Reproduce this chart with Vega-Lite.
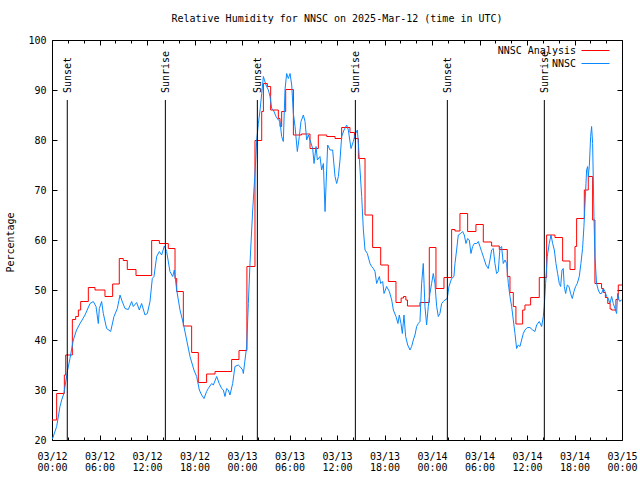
{
  "$schema": "https://vega.github.io/schema/vega-lite/v6.json",
  "width": 570,
  "height": 400,
  "autosize": "none",
  "padding": {"left": 52, "top": 40, "right": 18, "bottom": 40},
  "background": "white",
  "config": {
    "view": {"stroke": "black", "strokeWidth": 1},
    "font": "DejaVu Sans Mono",
    "axis": {"labelFont": "DejaVu Sans Mono", "labelFontSize": 10, "labelColor": "black", "tickColor": "black", "titleFont": "DejaVu Sans Mono", "titleFontSize": 10, "titleFontWeight": "normal", "titleColor": "black", "grid": false, "domain": false, "tickWidth": 1}
  },
  "title": {"text": "Relative Humidity for NNSC on 2025-Mar-12 (time in UTC)", "font": "DejaVu Sans Mono", "fontSize": 10, "fontWeight": "normal", "anchor": "middle", "offset": 11, "color": "black"},
  "datasets": {
    "ev": [
      {"h": 1.93, "e": "Sunset"}, {"h": 14.32, "e": "Sunrise"}, {"h": 25.94, "e": "Sunset"},
      {"h": 38.32, "e": "Sunrise"}, {"h": 49.94, "e": "Sunset"}, {"h": 62.19, "e": "Sunrise"}
    ],
    "rh": [
      {"s": "NNSC Analysis", "h": 0, "v": 24},
      {"s": "NNSC Analysis", "h": 0.59, "v": 29.3},
      {"s": "NNSC Analysis", "h": 1.56, "v": 33},
      {"s": "NNSC Analysis", "h": 1.73, "v": 37},
      {"s": "NNSC Analysis", "h": 2.57, "v": 44.1},
      {"s": "NNSC Analysis", "h": 2.99, "v": 44.7},
      {"s": "NNSC Analysis", "h": 3.33, "v": 46},
      {"s": "NNSC Analysis", "h": 3.62, "v": 47.7},
      {"s": "NNSC Analysis", "h": 4.59, "v": 50.5},
      {"s": "NNSC Analysis", "h": 5.43, "v": 50.0},
      {"s": "NNSC Analysis", "h": 6.69, "v": 48.7},
      {"s": "NNSC Analysis", "h": 7.66, "v": 51.2},
      {"s": "NNSC Analysis", "h": 8.5, "v": 56.3},
      {"s": "NNSC Analysis", "h": 9.0, "v": 55.9},
      {"s": "NNSC Analysis", "h": 9.51, "v": 54.1},
      {"s": "NNSC Analysis", "h": 10.61, "v": 52.9},
      {"s": "NNSC Analysis", "h": 12.59, "v": 59.9},
      {"s": "NNSC Analysis", "h": 13.56, "v": 59.3},
      {"s": "NNSC Analysis", "h": 14.69, "v": 58.3},
      {"s": "NNSC Analysis", "h": 15.54, "v": 52.3},
      {"s": "NNSC Analysis", "h": 15.75, "v": 49.7},
      {"s": "NNSC Analysis", "h": 16.59, "v": 42.8},
      {"s": "NNSC Analysis", "h": 17.64, "v": 37.5},
      {"s": "NNSC Analysis", "h": 18.48, "v": 31.5},
      {"s": "NNSC Analysis", "h": 19.53, "v": 33.2},
      {"s": "NNSC Analysis", "h": 20.59, "v": 33.7},
      {"s": "NNSC Analysis", "h": 22.69, "v": 36.1},
      {"s": "NNSC Analysis", "h": 23.62, "v": 37.9},
      {"s": "NNSC Analysis", "h": 24.62, "v": 54.7},
      {"s": "NNSC Analysis", "h": 25.64, "v": 79.9},
      {"s": "NNSC Analysis", "h": 26.49, "v": 85.7},
      {"s": "NNSC Analysis", "h": 26.7, "v": 91.3},
      {"s": "NNSC Analysis", "h": 27.2, "v": 90.7},
      {"s": "NNSC Analysis", "h": 27.62, "v": 86},
      {"s": "NNSC Analysis", "h": 28.59, "v": 84.3},
      {"s": "NNSC Analysis", "h": 28.8, "v": 82.7},
      {"s": "NNSC Analysis", "h": 29.01, "v": 85.7},
      {"s": "NNSC Analysis", "h": 29.52, "v": 90.1},
      {"s": "NNSC Analysis", "h": 30.49, "v": 81},
      {"s": "NNSC Analysis", "h": 31.5, "v": 81.2},
      {"s": "NNSC Analysis", "h": 32.59, "v": 78.3},
      {"s": "NNSC Analysis", "h": 33.64, "v": 81},
      {"s": "NNSC Analysis", "h": 34.7, "v": 80.7},
      {"s": "NNSC Analysis", "h": 35.75, "v": 80.3},
      {"s": "NNSC Analysis", "h": 36.59, "v": 82.5},
      {"s": "NNSC Analysis", "h": 37.64, "v": 81.5},
      {"s": "NNSC Analysis", "h": 38.2, "v": 80.3},
      {"s": "NNSC Analysis", "h": 38.7, "v": 76.3},
      {"s": "NNSC Analysis", "h": 39.54, "v": 65},
      {"s": "NNSC Analysis", "h": 40.5, "v": 58.5},
      {"s": "NNSC Analysis", "h": 41.52, "v": 55},
      {"s": "NNSC Analysis", "h": 42.48, "v": 51.7},
      {"s": "NNSC Analysis", "h": 43.45, "v": 47.5},
      {"s": "NNSC Analysis", "h": 44.1, "v": 48.4},
      {"s": "NNSC Analysis", "h": 44.4, "v": 48.7},
      {"s": "NNSC Analysis", "h": 44.7, "v": 48.0},
      {"s": "NNSC Analysis", "h": 44.9, "v": 46.8},
      {"s": "NNSC Analysis", "h": 46.48, "v": 47.5},
      {"s": "NNSC Analysis", "h": 47.66, "v": 58.5},
      {"s": "NNSC Analysis", "h": 48.5, "v": 50.3},
      {"s": "NNSC Analysis", "h": 49.51, "v": 52.5},
      {"s": "NNSC Analysis", "h": 50.48, "v": 62.1},
      {"s": "NNSC Analysis", "h": 50.9, "v": 61.8},
      {"s": "NNSC Analysis", "h": 51.53, "v": 65.3},
      {"s": "NNSC Analysis", "h": 52.5, "v": 61.7},
      {"s": "NNSC Analysis", "h": 53.55, "v": 63.1},
      {"s": "NNSC Analysis", "h": 54.48, "v": 59.6},
      {"s": "NNSC Analysis", "h": 55.53, "v": 58.8},
      {"s": "NNSC Analysis", "h": 56.5, "v": 58.1},
      {"s": "NNSC Analysis", "h": 57.51, "v": 52.7},
      {"s": "NNSC Analysis", "h": 57.85, "v": 49.5},
      {"s": "NNSC Analysis", "h": 58.27, "v": 46.7},
      {"s": "NNSC Analysis", "h": 58.6, "v": 43.2},
      {"s": "NNSC Analysis", "h": 59.45, "v": 46},
      {"s": "NNSC Analysis", "h": 59.74, "v": 47},
      {"s": "NNSC Analysis", "h": 60.46, "v": 48.5},
      {"s": "NNSC Analysis", "h": 61.55, "v": 52.5},
      {"s": "NNSC Analysis", "h": 62.48, "v": 61},
      {"s": "NNSC Analysis", "h": 63.53, "v": 60.5},
      {"s": "NNSC Analysis", "h": 64.5, "v": 55.8},
      {"s": "NNSC Analysis", "h": 65.43, "v": 54.1},
      {"s": "NNSC Analysis", "h": 66.06, "v": 58.7},
      {"s": "NNSC Analysis", "h": 66.27, "v": 64.3},
      {"s": "NNSC Analysis", "h": 67.24, "v": 70},
      {"s": "NNSC Analysis", "h": 67.74, "v": 72.7},
      {"s": "NNSC Analysis", "h": 68.29, "v": 64},
      {"s": "NNSC Analysis", "h": 68.58, "v": 51.3},
      {"s": "NNSC Analysis", "h": 69.42, "v": 50.3},
      {"s": "NNSC Analysis", "h": 69.64, "v": 49.5},
      {"s": "NNSC Analysis", "h": 69.9, "v": 48.5},
      {"s": "NNSC Analysis", "h": 70.2, "v": 47.3},
      {"s": "NNSC Analysis", "h": 70.5, "v": 46.2},
      {"s": "NNSC Analysis", "h": 70.69, "v": 46},
      {"s": "NNSC Analysis", "h": 71.23, "v": 48.1},
      {"s": "NNSC Analysis", "h": 71.53, "v": 51},
      {"s": "NNSC Analysis", "h": 72, "v": 51},
      {"s": "NNSC", "h": 0.05, "v": 20.2},
      {"s": "NNSC", "h": 0.59, "v": 22.7},
      {"s": "NNSC", "h": 1.01, "v": 26.7},
      {"s": "NNSC", "h": 1.22, "v": 28},
      {"s": "NNSC", "h": 1.5, "v": 29.3},
      {"s": "NNSC", "h": 1.77, "v": 32},
      {"s": "NNSC", "h": 1.98, "v": 34},
      {"s": "NNSC", "h": 2.27, "v": 36.3},
      {"s": "NNSC", "h": 2.69, "v": 40},
      {"s": "NNSC", "h": 3.1, "v": 42},
      {"s": "NNSC", "h": 3.54, "v": 43.3},
      {"s": "NNSC", "h": 4.17, "v": 45},
      {"s": "NNSC", "h": 4.8, "v": 47.3},
      {"s": "NNSC", "h": 5.22, "v": 47.7},
      {"s": "NNSC", "h": 5.56, "v": 46.7},
      {"s": "NNSC", "h": 5.85, "v": 43.3},
      {"s": "NNSC", "h": 5.98, "v": 46.3},
      {"s": "NNSC", "h": 6.27, "v": 47.7},
      {"s": "NNSC", "h": 6.48, "v": 45.3},
      {"s": "NNSC", "h": 6.9, "v": 42.3},
      {"s": "NNSC", "h": 7.41, "v": 41.7},
      {"s": "NNSC", "h": 7.83, "v": 44.7},
      {"s": "NNSC", "h": 8.25, "v": 46.3},
      {"s": "NNSC", "h": 8.59, "v": 49},
      {"s": "NNSC", "h": 8.8, "v": 48},
      {"s": "NNSC", "h": 9.22, "v": 46.3},
      {"s": "NNSC", "h": 9.64, "v": 46.1},
      {"s": "NNSC", "h": 10.06, "v": 47.7},
      {"s": "NNSC", "h": 10.27, "v": 46.7},
      {"s": "NNSC", "h": 10.69, "v": 47.5},
      {"s": "NNSC", "h": 11.03, "v": 46},
      {"s": "NNSC", "h": 11.32, "v": 47.3},
      {"s": "NNSC", "h": 11.75, "v": 45},
      {"s": "NNSC", "h": 12.04, "v": 45.3},
      {"s": "NNSC", "h": 12.38, "v": 47.7},
      {"s": "NNSC", "h": 12.67, "v": 52.3},
      {"s": "NNSC", "h": 12.88, "v": 52.7},
      {"s": "NNSC", "h": 13.22, "v": 56.7},
      {"s": "NNSC", "h": 13.56, "v": 57.7},
      {"s": "NNSC", "h": 13.85, "v": 57},
      {"s": "NNSC", "h": 14.19, "v": 58.8},
      {"s": "NNSC", "h": 14.48, "v": 57.7},
      {"s": "NNSC", "h": 14.9, "v": 53.7},
      {"s": "NNSC", "h": 15.24, "v": 52.7},
      {"s": "NNSC", "h": 15.45, "v": 54},
      {"s": "NNSC", "h": 15.75, "v": 50},
      {"s": "NNSC", "h": 16.17, "v": 46},
      {"s": "NNSC", "h": 16.59, "v": 43.3},
      {"s": "NNSC", "h": 17.01, "v": 40},
      {"s": "NNSC", "h": 17.43, "v": 36.7},
      {"s": "NNSC", "h": 17.93, "v": 34},
      {"s": "NNSC", "h": 18.27, "v": 32.7},
      {"s": "NNSC", "h": 18.61, "v": 30},
      {"s": "NNSC", "h": 18.9, "v": 29},
      {"s": "NNSC", "h": 19.2, "v": 28.3},
      {"s": "NNSC", "h": 19.53, "v": 29.7},
      {"s": "NNSC", "h": 19.74, "v": 30.3},
      {"s": "NNSC", "h": 20.17, "v": 31.3},
      {"s": "NNSC", "h": 20.38, "v": 31},
      {"s": "NNSC", "h": 20.8, "v": 32.7},
      {"s": "NNSC", "h": 21.13, "v": 31.3},
      {"s": "NNSC", "h": 21.43, "v": 30.3},
      {"s": "NNSC", "h": 21.64, "v": 30},
      {"s": "NNSC", "h": 21.85, "v": 28.7},
      {"s": "NNSC", "h": 22.06, "v": 30.3},
      {"s": "NNSC", "h": 22.27, "v": 30},
      {"s": "NNSC", "h": 22.48, "v": 29},
      {"s": "NNSC", "h": 22.82, "v": 31.3},
      {"s": "NNSC", "h": 23.11, "v": 34.7},
      {"s": "NNSC", "h": 23.53, "v": 35},
      {"s": "NNSC", "h": 23.74, "v": 34.7},
      {"s": "NNSC", "h": 24.08, "v": 34},
      {"s": "NNSC", "h": 24.17, "v": 33.3},
      {"s": "NNSC", "h": 24.59, "v": 38.7},
      {"s": "NNSC", "h": 24.8, "v": 47.3},
      {"s": "NNSC", "h": 25.01, "v": 55.3},
      {"s": "NNSC", "h": 25.35, "v": 66},
      {"s": "NNSC", "h": 25.64, "v": 73.3},
      {"s": "NNSC", "h": 25.86, "v": 80},
      {"s": "NNSC", "h": 26.07, "v": 83.3},
      {"s": "NNSC", "h": 26.28, "v": 86},
      {"s": "NNSC", "h": 26.49, "v": 89.3},
      {"s": "NNSC", "h": 26.7, "v": 92.7},
      {"s": "NNSC", "h": 27.03, "v": 91},
      {"s": "NNSC", "h": 27.33, "v": 90},
      {"s": "NNSC", "h": 27.54, "v": 88.7},
      {"s": "NNSC", "h": 27.75, "v": 86.3},
      {"s": "NNSC", "h": 27.96, "v": 86},
      {"s": "NNSC", "h": 28.3, "v": 84.7},
      {"s": "NNSC", "h": 28.59, "v": 84},
      {"s": "NNSC", "h": 28.8, "v": 83.7},
      {"s": "NNSC", "h": 29.01, "v": 80.7},
      {"s": "NNSC", "h": 29.22, "v": 79.7},
      {"s": "NNSC", "h": 29.43, "v": 90},
      {"s": "NNSC", "h": 29.64, "v": 93.3},
      {"s": "NNSC", "h": 29.85, "v": 92.3},
      {"s": "NNSC", "h": 30.07, "v": 93.3},
      {"s": "NNSC", "h": 30.28, "v": 91},
      {"s": "NNSC", "h": 30.49, "v": 85.3},
      {"s": "NNSC", "h": 30.7, "v": 82.7},
      {"s": "NNSC", "h": 30.99, "v": 77.7},
      {"s": "NNSC", "h": 31.24, "v": 80.7},
      {"s": "NNSC", "h": 31.45, "v": 83.7},
      {"s": "NNSC", "h": 31.75, "v": 85},
      {"s": "NNSC", "h": 31.96, "v": 83.7},
      {"s": "NNSC", "h": 32.17, "v": 80},
      {"s": "NNSC", "h": 32.38, "v": 81},
      {"s": "NNSC", "h": 32.59, "v": 80},
      {"s": "NNSC", "h": 32.93, "v": 78.3},
      {"s": "NNSC", "h": 33.1, "v": 75.3},
      {"s": "NNSC", "h": 33.35, "v": 78.7},
      {"s": "NNSC", "h": 33.52, "v": 76},
      {"s": "NNSC", "h": 33.85, "v": 76.7},
      {"s": "NNSC", "h": 34.06, "v": 74},
      {"s": "NNSC", "h": 34.28, "v": 75.3},
      {"s": "NNSC", "h": 34.49, "v": 65.7},
      {"s": "NNSC", "h": 34.61, "v": 70.7},
      {"s": "NNSC", "h": 34.82, "v": 79},
      {"s": "NNSC", "h": 35.12, "v": 78},
      {"s": "NNSC", "h": 35.45, "v": 78},
      {"s": "NNSC", "h": 35.75, "v": 72.7},
      {"s": "NNSC", "h": 35.96, "v": 71.3},
      {"s": "NNSC", "h": 36.17, "v": 72.7},
      {"s": "NNSC", "h": 36.38, "v": 76},
      {"s": "NNSC", "h": 36.59, "v": 80.7},
      {"s": "NNSC", "h": 36.89, "v": 82},
      {"s": "NNSC", "h": 37.22, "v": 83},
      {"s": "NNSC", "h": 37.43, "v": 82},
      {"s": "NNSC", "h": 37.77, "v": 78.3},
      {"s": "NNSC", "h": 38.06, "v": 79.7},
      {"s": "NNSC", "h": 38.27, "v": 81},
      {"s": "NNSC", "h": 38.57, "v": 82},
      {"s": "NNSC", "h": 38.7, "v": 79.3},
      {"s": "NNSC", "h": 38.91, "v": 74},
      {"s": "NNSC", "h": 39.12, "v": 68.7},
      {"s": "NNSC", "h": 39.33, "v": 62},
      {"s": "NNSC", "h": 39.54, "v": 58},
      {"s": "NNSC", "h": 39.83, "v": 57.3},
      {"s": "NNSC", "h": 40.17, "v": 55.3},
      {"s": "NNSC", "h": 40.38, "v": 54.7},
      {"s": "NNSC", "h": 40.59, "v": 54.3},
      {"s": "NNSC", "h": 40.8, "v": 53.7},
      {"s": "NNSC", "h": 41.01, "v": 51.3},
      {"s": "NNSC", "h": 41.35, "v": 52.7},
      {"s": "NNSC", "h": 41.52, "v": 51.3},
      {"s": "NNSC", "h": 41.77, "v": 51.7},
      {"s": "NNSC", "h": 41.94, "v": 49.3},
      {"s": "NNSC", "h": 42.27, "v": 50.7},
      {"s": "NNSC", "h": 42.61, "v": 49.7},
      {"s": "NNSC", "h": 42.91, "v": 48},
      {"s": "NNSC", "h": 43.12, "v": 46},
      {"s": "NNSC", "h": 43.45, "v": 44.7},
      {"s": "NNSC", "h": 43.7, "v": 43.3},
      {"s": "NNSC", "h": 43.87, "v": 45},
      {"s": "NNSC", "h": 44.08, "v": 43.3},
      {"s": "NNSC", "h": 44.25, "v": 41.3},
      {"s": "NNSC", "h": 44.46, "v": 45},
      {"s": "NNSC", "h": 44.67, "v": 40.7},
      {"s": "NNSC", "h": 44.93, "v": 39},
      {"s": "NNSC", "h": 45.22, "v": 38},
      {"s": "NNSC", "h": 45.43, "v": 38.7},
      {"s": "NNSC", "h": 45.64, "v": 40},
      {"s": "NNSC", "h": 45.85, "v": 41},
      {"s": "NNSC", "h": 46.06, "v": 42.7},
      {"s": "NNSC", "h": 46.27, "v": 43.3},
      {"s": "NNSC", "h": 46.48, "v": 43.7},
      {"s": "NNSC", "h": 46.69, "v": 51.3},
      {"s": "NNSC", "h": 46.9, "v": 55.3},
      {"s": "NNSC", "h": 47.11, "v": 46.7},
      {"s": "NNSC", "h": 47.32, "v": 43},
      {"s": "NNSC", "h": 47.53, "v": 46.7},
      {"s": "NNSC", "h": 47.74, "v": 49.3},
      {"s": "NNSC", "h": 47.95, "v": 51.3},
      {"s": "NNSC", "h": 48.16, "v": 53.3},
      {"s": "NNSC", "h": 48.37, "v": 51.3},
      {"s": "NNSC", "h": 48.59, "v": 46.7},
      {"s": "NNSC", "h": 48.8, "v": 44.7},
      {"s": "NNSC", "h": 49.0, "v": 45.3},
      {"s": "NNSC", "h": 49.22, "v": 47.3},
      {"s": "NNSC", "h": 49.43, "v": 47.7},
      {"s": "NNSC", "h": 49.64, "v": 48},
      {"s": "NNSC", "h": 49.93, "v": 48.3},
      {"s": "NNSC", "h": 50.14, "v": 50.7},
      {"s": "NNSC", "h": 50.48, "v": 52.3},
      {"s": "NNSC", "h": 50.77, "v": 52.7},
      {"s": "NNSC", "h": 50.9, "v": 55.3},
      {"s": "NNSC", "h": 51.11, "v": 58},
      {"s": "NNSC", "h": 51.32, "v": 61},
      {"s": "NNSC", "h": 51.62, "v": 61.3},
      {"s": "NNSC", "h": 51.87, "v": 61.7},
      {"s": "NNSC", "h": 52.08, "v": 61},
      {"s": "NNSC", "h": 52.29, "v": 59.3},
      {"s": "NNSC", "h": 52.5, "v": 60.3},
      {"s": "NNSC", "h": 52.71, "v": 60},
      {"s": "NNSC", "h": 52.92, "v": 57.3},
      {"s": "NNSC", "h": 53.13, "v": 58.7},
      {"s": "NNSC", "h": 53.34, "v": 59.3},
      {"s": "NNSC", "h": 53.64, "v": 59.3},
      {"s": "NNSC", "h": 53.85, "v": 59.7},
      {"s": "NNSC", "h": 54.06, "v": 58.7},
      {"s": "NNSC", "h": 54.27, "v": 57.7},
      {"s": "NNSC", "h": 54.56, "v": 56.3},
      {"s": "NNSC", "h": 54.82, "v": 55},
      {"s": "NNSC", "h": 55.11, "v": 54.3},
      {"s": "NNSC", "h": 55.32, "v": 56},
      {"s": "NNSC", "h": 55.53, "v": 58},
      {"s": "NNSC", "h": 55.74, "v": 58.3},
      {"s": "NNSC", "h": 55.95, "v": 55.3},
      {"s": "NNSC", "h": 56.16, "v": 53.3},
      {"s": "NNSC", "h": 56.37, "v": 53.7},
      {"s": "NNSC", "h": 56.58, "v": 58.3},
      {"s": "NNSC", "h": 56.79, "v": 58.7},
      {"s": "NNSC", "h": 57.0, "v": 55.3},
      {"s": "NNSC", "h": 57.22, "v": 56},
      {"s": "NNSC", "h": 57.43, "v": 55.3},
      {"s": "NNSC", "h": 57.64, "v": 51.3},
      {"s": "NNSC", "h": 57.85, "v": 48.7},
      {"s": "NNSC", "h": 58.06, "v": 46.7},
      {"s": "NNSC", "h": 58.27, "v": 44},
      {"s": "NNSC", "h": 58.48, "v": 41.3},
      {"s": "NNSC", "h": 58.69, "v": 38.3},
      {"s": "NNSC", "h": 58.9, "v": 39},
      {"s": "NNSC", "h": 59.11, "v": 38.7},
      {"s": "NNSC", "h": 59.32, "v": 40},
      {"s": "NNSC", "h": 59.53, "v": 41.3},
      {"s": "NNSC", "h": 59.74, "v": 42},
      {"s": "NNSC", "h": 60.04, "v": 42.5},
      {"s": "NNSC", "h": 60.37, "v": 42.5},
      {"s": "NNSC", "h": 60.71, "v": 42},
      {"s": "NNSC", "h": 61.0, "v": 41.7},
      {"s": "NNSC", "h": 61.22, "v": 43},
      {"s": "NNSC", "h": 61.55, "v": 43.7},
      {"s": "NNSC", "h": 61.85, "v": 42.7},
      {"s": "NNSC", "h": 62.06, "v": 44.7},
      {"s": "NNSC", "h": 62.18, "v": 46.7},
      {"s": "NNSC", "h": 62.35, "v": 51.3},
      {"s": "NNSC", "h": 62.56, "v": 56.7},
      {"s": "NNSC", "h": 62.81, "v": 59.3},
      {"s": "NNSC", "h": 63.03, "v": 61},
      {"s": "NNSC", "h": 63.24, "v": 59.3},
      {"s": "NNSC", "h": 63.45, "v": 58},
      {"s": "NNSC", "h": 63.66, "v": 55.3},
      {"s": "NNSC", "h": 63.87, "v": 53.3},
      {"s": "NNSC", "h": 64.08, "v": 51.3},
      {"s": "NNSC", "h": 64.25, "v": 50.7},
      {"s": "NNSC", "h": 64.42, "v": 54},
      {"s": "NNSC", "h": 64.58, "v": 54.3},
      {"s": "NNSC", "h": 64.71, "v": 50.7},
      {"s": "NNSC", "h": 64.88, "v": 49.3},
      {"s": "NNSC", "h": 65.09, "v": 51},
      {"s": "NNSC", "h": 65.3, "v": 50.7},
      {"s": "NNSC", "h": 65.51, "v": 49.3},
      {"s": "NNSC", "h": 65.72, "v": 48.3},
      {"s": "NNSC", "h": 65.93, "v": 49.7},
      {"s": "NNSC", "h": 66.14, "v": 50.7},
      {"s": "NNSC", "h": 66.35, "v": 51.3},
      {"s": "NNSC", "h": 66.6, "v": 52.7},
      {"s": "NNSC", "h": 66.81, "v": 55.3},
      {"s": "NNSC", "h": 67.02, "v": 58.3},
      {"s": "NNSC", "h": 67.19, "v": 62.7},
      {"s": "NNSC", "h": 67.32, "v": 67},
      {"s": "NNSC", "h": 67.45, "v": 71.3},
      {"s": "NNSC", "h": 67.53, "v": 74},
      {"s": "NNSC", "h": 67.66, "v": 74.7},
      {"s": "NNSC", "h": 67.74, "v": 72.7},
      {"s": "NNSC", "h": 67.87, "v": 74.7},
      {"s": "NNSC", "h": 68.04, "v": 80.7},
      {"s": "NNSC", "h": 68.16, "v": 82.7},
      {"s": "NNSC", "h": 68.29, "v": 79.3},
      {"s": "NNSC", "h": 68.46, "v": 64.7},
      {"s": "NNSC", "h": 68.58, "v": 56.7},
      {"s": "NNSC", "h": 68.79, "v": 51.3},
      {"s": "NNSC", "h": 69.0, "v": 50},
      {"s": "NNSC", "h": 69.21, "v": 49.3},
      {"s": "NNSC", "h": 69.42, "v": 49.3},
      {"s": "NNSC", "h": 69.64, "v": 50.3},
      {"s": "NNSC", "h": 69.85, "v": 49.7},
      {"s": "NNSC", "h": 70.06, "v": 48.7},
      {"s": "NNSC", "h": 70.27, "v": 48.3},
      {"s": "NNSC", "h": 70.48, "v": 47.3},
      {"s": "NNSC", "h": 70.69, "v": 48.7},
      {"s": "NNSC", "h": 70.9, "v": 47.3},
      {"s": "NNSC", "h": 71.11, "v": 46.3},
      {"s": "NNSC", "h": 71.32, "v": 45.3},
      {"s": "NNSC", "h": 71.45, "v": 49.3},
      {"s": "NNSC", "h": 71.62, "v": 48},
      {"s": "NNSC", "h": 71.74, "v": 47.7},
      {"s": "NNSC", "h": 71.87, "v": 48},
      {"s": "NNSC", "h": 71.96, "v": 48}
    ]
  },
  "resolve": {"axis": {"x": "independent", "y": "independent"}},
  "layer": [
    {
      "data": {"name": "rh"},
      "transform": [{"filter": "datum.s === 'NNSC Analysis'"}],
      "mark": {"type": "line", "interpolate": "step-after", "strokeWidth": 1},
      "encoding": {
        "x": {"field": "h", "type": "quantitative", "scale": {"domain": [0, 72], "nice": false},
          "axis": {"orient": "bottom", "title": null, "values": [0, 6, 12, 18, 24, 30, 36, 42, 48, 54, 60, 66, 72], "tickSize": -5, "labelPadding": 16, "labelLineHeight": 11.5, "labelBaseline": "top", "labelFlush": false, "labelOverlap": false, "labelBound": false,
            "labelExpr": "['03/' + (12 + floor(datum.value / 24)), ((datum.value % 24) < 10 ? '0' : '') + (datum.value % 24) + ':00']"}},
        "y": {"field": "v", "type": "quantitative", "scale": {"domain": [20, 100], "nice": false},
          "axis": {"orient": "left", "values": [20, 30, 40, 50, 60, 70, 80, 90, 100], "tickSize": -5, "labelPadding": 11, "title": "Percentage", "titleX": -42, "titleY": 202, "titleBaseline": "middle", "titleAngle": 270, "labelFlush": false, "labelOverlap": false}},
        "color": {"field": "s", "type": "nominal",
          "scale": {"domain": ["NNSC Analysis", "NNSC"], "range": ["#ff0000", "#0a88ff"]},
          "legend": {"title": null, "orient": "none", "legendX": 538, "legendY": 5, "symbolType": "M-2.8,0H2.8", "symbolSize": 100, "symbolStrokeWidth": 1, "symbolFillColor": "transparent", "labelAlign": "right", "labelOffset": -25, "labelFont": "DejaVu Sans Mono", "labelFontSize": 10, "labelColor": "black", "rowPadding": 2, "padding": 0}}
      }
    },
    {
      "data": {"name": "rh"},
      "transform": [{"filter": "datum.s === 'NNSC'"}],
      "mark": {"type": "line", "interpolate": "linear", "strokeWidth": 1},
      "encoding": {
        "x": {"field": "h", "type": "quantitative", "axis": {"orient": "top", "title": null, "labels": false, "values": [0, 6, 12, 18, 24, 30, 36, 42, 48, 54, 60, 66, 72], "tickSize": -5}},
        "y": {"field": "v", "type": "quantitative", "axis": {"orient": "right", "title": null, "labels": false, "values": [20, 30, 40, 50, 60, 70, 80, 90, 100], "tickSize": -5}},
        "color": {"field": "s", "type": "nominal"}
      }
    },
    {
      "data": {"name": "ev"},
      "mark": {"type": "rule", "color": "black", "strokeWidth": 1},
      "encoding": {
        "x": {"field": "h", "type": "quantitative", "axis": {"orient": "bottom", "title": null, "labels": false, "values": [2, 4, 8, 10, 14, 16, 20, 22, 26, 28, 32, 34, 38, 40, 44, 46, 50, 52, 56, 58, 62, 64, 68, 70], "tickSize": -3}},
        "y": {"datum": 20, "type": "quantitative", "axis": null},
        "y2": {"datum": 88}
      }
    },
    {
      "data": {"name": "ev"},
      "mark": {"type": "text", "angle": 270, "align": "left", "baseline": "middle", "dy": 1, "font": "DejaVu Sans Mono", "fontSize": 10, "color": "black"},
      "encoding": {
        "x": {"field": "h", "type": "quantitative", "axis": {"orient": "top", "title": null, "labels": false, "values": [2, 4, 8, 10, 14, 16, 20, 22, 26, 28, 32, 34, 38, 40, 44, 46, 50, 52, 56, 58, 62, 64, 68, 70], "tickSize": -3}},
        "y": {"datum": 89.4, "type": "quantitative", "axis": null},
        "text": {"field": "e"}
      }
    }
  ]
}
